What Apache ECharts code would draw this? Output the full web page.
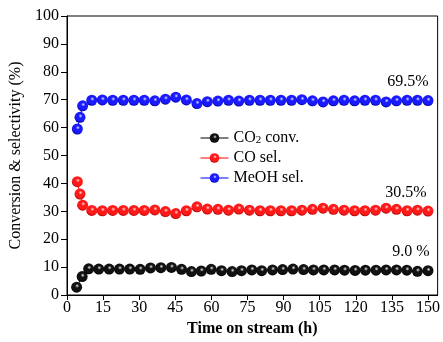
<!DOCTYPE html>
<html><head><meta charset="utf-8">
<script src="https://cdn.jsdelivr.net/npm/echarts@6/dist/echarts.min.js"></script>
<style>html,body{margin:0;padding:0;background:#fff}#c{width:443px;height:342px}</style>
</head><body><div id="c"></div>
<script>
const timeConv = [4.0, 6.3, 9.0, 13.2, 17.5, 21.8, 26.1, 30.4, 34.7, 39.0, 43.4, 47.6, 51.7, 55.8, 59.9, 64.2, 68.6, 72.5, 76.8, 80.9, 85.4, 89.6, 93.9, 98.3, 102.4, 106.7, 111.2, 115.3, 119.7, 124.0, 128.4, 132.6, 136.9, 141.2, 145.6, 150.0];
const timeSel = [4.3, 5.4, 6.5, 10.3, 14.7, 19.0, 23.4, 27.8, 32.1, 36.5, 40.9, 45.2, 49.6, 54.0, 58.3, 62.7, 67.1, 71.4, 75.8, 80.2, 84.5, 88.9, 93.3, 97.6, 102.0, 106.4, 110.7, 115.1, 119.5, 123.8, 128.2, 132.6, 136.9, 141.3, 145.6, 150.0];
const co2Conv = [2.8, 6.6, 9.4, 9.3, 9.3, 9.3, 9.3, 9.2, 9.7, 9.8, 9.9, 9.2, 8.4, 8.6, 9.2, 8.7, 8.4, 8.7, 9.0, 8.7, 9.0, 9.1, 9.3, 9.1, 9.0, 9.0, 9.0, 8.9, 8.8, 8.9, 8.9, 9.0, 9.0, 8.9, 8.5, 8.7];
const coSel = [40.6, 36.2, 32.2, 30.3, 30.2, 30.3, 30.3, 30.3, 30.3, 30.5, 29.9, 29.2, 30.2, 31.6, 30.8, 30.7, 30.4, 30.8, 30.4, 30.2, 30.2, 30.2, 30.2, 30.4, 30.7, 31.1, 30.7, 30.4, 30.2, 30.2, 30.4, 31.1, 30.7, 30.2, 30.4, 30.1];
const meohSel = [59.5, 63.7, 67.8, 69.8, 69.9, 69.8, 69.8, 69.8, 69.8, 69.6, 70.2, 70.9, 69.9, 68.6, 69.3, 69.5, 69.8, 69.5, 69.8, 69.8, 69.8, 69.8, 69.8, 70.0, 69.6, 69.2, 69.6, 69.8, 69.6, 69.8, 69.8, 69.2, 69.6, 69.8, 69.8, 69.7];
const xTicks = [0, 15, 30, 45, 60, 75, 90, 105, 120, 135, 150];
const yTicks = [0, 10, 20, 30, 40, 50, 60, 70, 80, 90, 100];
const seriesNames = ['CO2 conv.', 'CO sel.', 'MeOH sel.'];
const endLabels = ['9.0 %', '30.5%', '69.5%'];

const FONT = 'Liberation Serif';
function sphere(base, dark, hi) {
  return {type: 'radial', x: 0.55, y: 0.38, r: 0.62, colorStops: [
    {offset: 0, color: hi}, {offset: 0.3, color: base}, {offset: 0.75, color: base}, {offset: 1, color: dark}]};
}
const styles = [
  {line: '#000000', fill: sphere('#111111', '#000000', '#e8e8e8'), off: [-17, 0]},
  {line: '#ff0000', fill: sphere('#ff1a1a', '#b00000', '#ffe0e0'), off: [-22, 0]},
  {line: '#0000ff', fill: sphere('#1a1aff', '#0000a0', '#e0e0ff'), off: [-20, 0]}
];
const xs = [timeConv, timeSel, timeSel];
const ys = [co2Conv, coSel, meohSel];

const series = ys.map((vals, k) => ({
  name: seriesNames[k],
  type: 'line',
  symbol: 'circle',
  symbolSize: 11,
  z: 3 + k,
  lineStyle: {color: styles[k].line, width: 1},
  itemStyle: {color: styles[k].fill, borderWidth: 0},
  emphasis: {disabled: true},
  data: vals.map((v, i) => {
    const item = {value: [xs[k][i], v]};
    if (i === vals.length - 1) {
      item.label = {show: true, position: 'top', distance: 5, offset: styles[k].off,
        formatter: endLabels[k], fontFamily: FONT, fontSize: 16, color: '#000'};
    }
    return item;
  })
}));

const chart = echarts.init(document.getElementById('c'), null, {renderer: 'canvas'});
chart.setOption({
  animation: false,
  backgroundColor: '#fff',
  grid: {left: 67, right: 2, top: 16, bottom: 47, show: true, borderColor: '#000', borderWidth: 1, backgroundColor: 'transparent'},
  legend: {
    orient: 'vertical', left: 200, top: 130, padding: 0,
    itemWidth: 28, itemHeight: 12, itemGap: 4,
    data: seriesNames.map((n, k) => ({name: n, itemStyle: {color: styles[k].fill}, lineStyle: {color: styles[k].line, width: 1}})),
    formatter: n => n === 'CO2 conv.' ? '{a|CO}{s|2}{a| conv.}' : '{a|' + n + '}',
    textStyle: {fontFamily: FONT, fontSize: 16, color: '#000',
      rich: {a: {fontFamily: FONT, fontSize: 16, color: '#000'}, s: {fontFamily: FONT, fontSize: 11, color: '#000', padding: [5, 0, 0, 0]}}}
  },
  xAxis: {
    type: 'value', min: 0, max: 154, interval: 15,
    name: 'Time on stream (h)', nameLocation: 'middle', nameGap: 24,
    nameTextStyle: {fontFamily: FONT, fontSize: 16, fontWeight: 'bold', color: '#000'},
    axisLine: {lineStyle: {color: '#000', width: 1}},
    axisTick: {show: true, inside: false, length: 5, customValues: xTicks, lineStyle: {color: '#000'}},
    axisLabel: {customValues: xTicks, margin: 5, fontFamily: FONT, fontSize: 16, color: '#000'},
    splitLine: {show: false}
  },
  yAxis: {
    type: 'value', min: 0, max: 100, interval: 10,
    name: 'Conversion & selectivity (%)', nameLocation: 'middle', nameGap: 40,
    nameTextStyle: {fontFamily: FONT, fontSize: 16, color: '#000'},
    axisLine: {show: true, lineStyle: {color: '#000', width: 1}},
    axisTick: {show: true, inside: false, length: 6, customValues: yTicks, lineStyle: {color: '#000'}},
    axisLabel: {customValues: yTicks, margin: 8, fontFamily: FONT, fontSize: 16, color: '#000'},
    splitLine: {show: false}
  },
  series: series
});
</script>
</body></html>
